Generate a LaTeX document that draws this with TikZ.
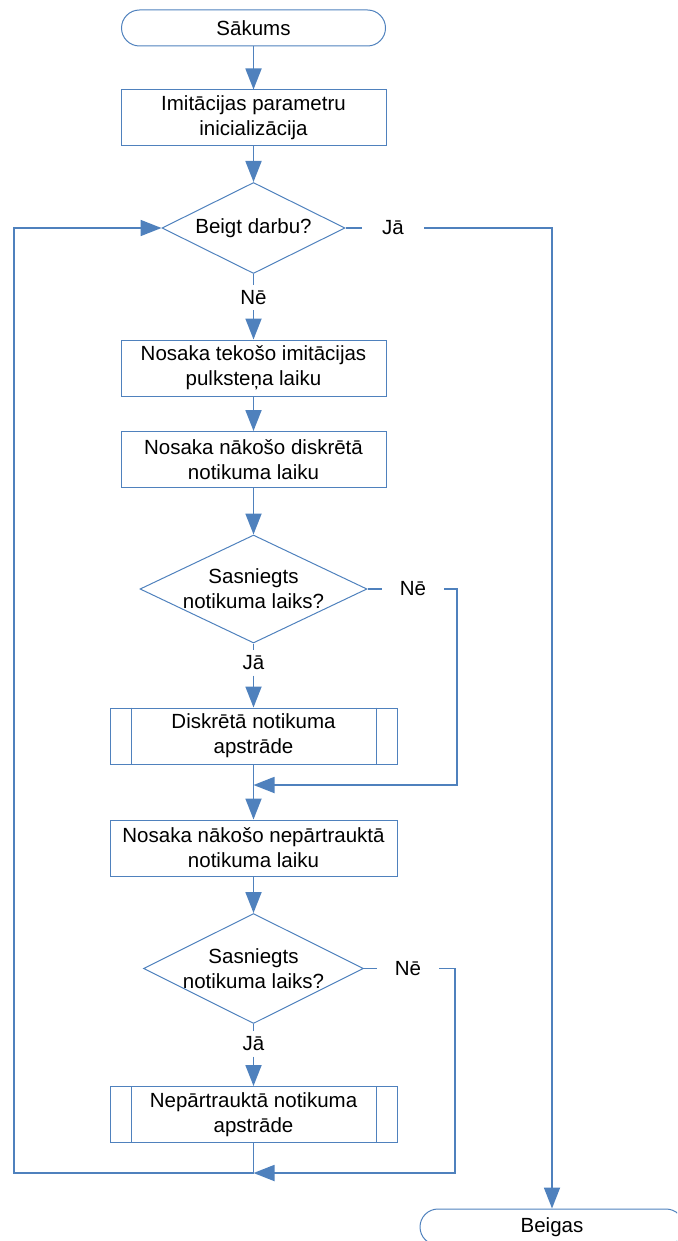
\documentclass[tikz,border=0pt]{standalone}
\usepackage{fontspec}
\setmainfont{Liberation Sans}
\usetikzlibrary{shapes.geometric,arrows.meta,calc}
\definecolor{flowblue}{HTML}{4F81BD}
\begin{document}
\begin{tikzpicture}[x=1pt,y=-1pt,
  font=\fontsize{20.5}{25}\selectfont,
  shapeborder/.style={draw=flowblue,line width=1pt},
  terminal/.style={shapeborder,rectangle,rounded corners=18pt,minimum width=264pt,minimum height=36pt,inner sep=0pt},
  process/.style={shapeborder,rectangle,minimum width=265pt,minimum height=56pt,inner sep=0pt,align=center},
  wideprocess/.style={process,minimum width=287pt},
  decision/.style={shapeborder,diamond,inner sep=0pt},
  txt/.style={align=center,inner sep=0pt},
  brlabel/.style={inner sep=0pt,minimum width=62pt,minimum height=25pt},
  flow/.style={draw=flowblue,line width=1.8pt},
  flowarrow/.style={flow,-{Triangle[length=21pt,width=16pt]}}
]
\clip (0,0) rectangle (677,1241);

% terminators
\node[terminal] (start) at (253.5,28) {Sākums};
\node[terminal] (end) at (552,1227) {Beigas};

% process boxes
\node[process] (p1) at (253.5,118) {Imitācijas parametru\\inicializācija};
\node[process] (p2) at (253.5,368) {Nosaka tekošo imitācijas\\pulksteņa laiku};
\node[process] (p3) at (253.5,459.5) {Nosaka nākošo diskrētā\\notikuma laiku};
\node[wideprocess] (p4) at (253.5,848) {Nosaka nākošo nepārtrauktā\\notikuma laiku};

% predefined processes (sub-routines)
\node[wideprocess] (s1) at (253.5,736) {Diskrētā notikuma\\apstrāde};
\node[wideprocess] (s2) at (253.5,1114.5) {Nepārtrauktā notikuma\\apstrāde};
\foreach \s in {s1,s2}{
  \draw[shapeborder] ($(\s.north west)+(22,0)$) -- ($(\s.south west)+(22,0)$);
  \draw[shapeborder] ($(\s.north east)+(-21,0)$) -- ($(\s.south east)+(-21,0)$);
}

% decisions
\node[decision,minimum width=183pt,minimum height=91pt] (d1) at (253.5,228) {};
\node[txt] at (d1) {Beigt darbu?};
\node[decision,minimum width=227pt,minimum height=108pt] (d2) at (253.5,589) {};
\node[txt] at (d2) {Sasniegts\\notikuma laiks?};
\node[decision,minimum width=220pt,minimum height=110pt] (d3) at (253.5,968.5) {};
\node[txt] at (d3) {Sasniegts\\notikuma laiks?};

% branch labels
\node[brlabel] (ja1) at (393,228) {Jā};
\node[brlabel] (ne1) at (253.5,297.5) {Nē};
\node[brlabel] (ne2) at (413,589) {Nē};
\node[brlabel] (ja2) at (253.5,663) {Jā};
\node[brlabel] (ne3) at (408,968.5) {Nē};
\node[brlabel] (ja3) at (253.5,1044) {Jā};

% junction points
\coordinate (m1) at (253.5,785);
\coordinate (r1) at (457,785);
\coordinate (m2) at (253.5,1173);
\coordinate (r2) at (455,1173);
\coordinate (lb) at (14,1173);

% connectors
\draw[flowarrow] (start) -- (p1);
\draw[flowarrow] (p1) -- (d1);
\draw[flow] (d1.south) -- (ne1.north);
\draw[flowarrow] (ne1.south) -- (p2.north);
\draw[flow] (d1.east) -- (ja1.west);
\draw[flowarrow] (ja1.east) -| (end.north);
\draw[flowarrow] (p2) -- (p3);
\draw[flowarrow] (p3) -- (d2);
\draw[flow] (d2.south) -- (ja2.north);
\draw[flowarrow] (ja2.south) -- (s1.north);
\draw[flow] (d2.east) -- (ne2.west);
\draw[flowarrow] (ne2.east) -| (r1) -- (m1);
\draw[flow] (s1.south) -- (m1);
\draw[flowarrow] (m1) -- (p4.north);
\draw[flowarrow] (p4) -- (d3);
\draw[flow] (d3.south) -- (ja3.north);
\draw[flowarrow] (ja3.south) -- (s2.north);
\draw[flow] (d3.east) -- (ne3.west);
\draw[flowarrow] (ne3.east) -| (r2) -- (m2);
\draw[flow] (s2.south) -- (m2);
\draw[flowarrow] (m2) -- (lb) |- (d1.west);
\end{tikzpicture}
\end{document}
